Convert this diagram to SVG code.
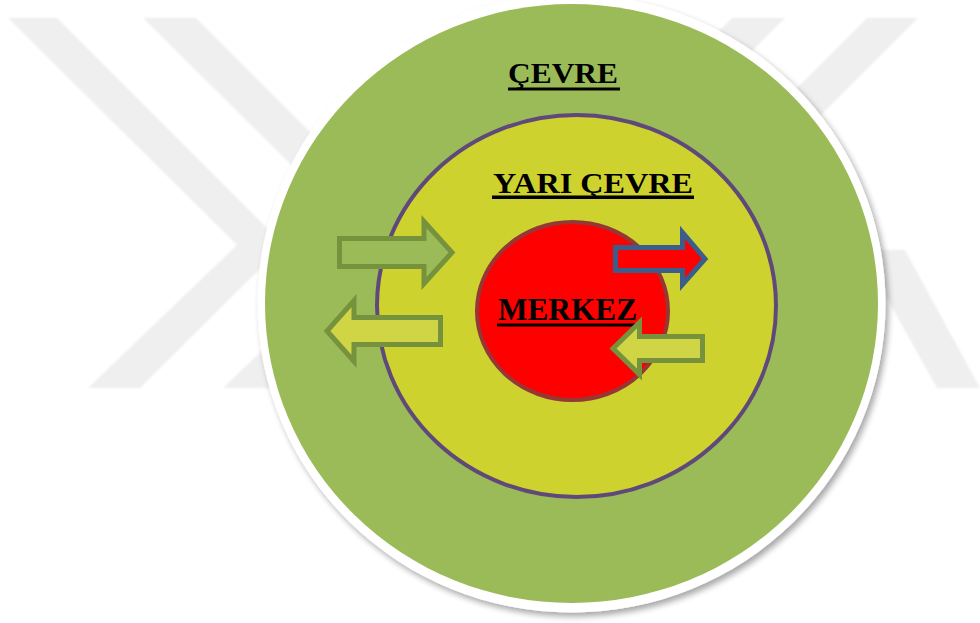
<svg xmlns="http://www.w3.org/2000/svg" width="980" height="623" viewBox="0 0 980 623">
  <defs>
    <filter id="shadow" x="-10%" y="-10%" width="120%" height="120%">
      <feGaussianBlur in="SourceAlpha" stdDeviation="3"/>
      <feOffset dx="3" dy="4" result="b"/>
      <feComponentTransfer><feFuncA type="linear" slope="0.35"/></feComponentTransfer>
      <feMerge><feMergeNode/><feMergeNode in="SourceGraphic"/></feMerge>
    </filter>
    <filter id="soft"><feGaussianBlur stdDeviation="0.8"/></filter>
  </defs>
  <style>
    .wm { fill: #efefef; }
    .lbl { font-family: "Liberation Serif", "Times New Roman", serif; font-weight: bold; fill: #000; }
    .ul { fill: #000; }
    .arrG { fill: #9bbb59; stroke: #76923c; stroke-width: 5; stroke-linejoin: miter; }
    .arrY { fill: #d0d546; stroke: #76923c; stroke-width: 5; stroke-linejoin: miter; }
    .arrR { fill: #ff0000; stroke: #3a5d8c; stroke-width: 5; stroke-linejoin: miter; }
  </style>
  <rect width="980" height="623" fill="#ffffff"/>
  <g id="watermark" filter="url(#soft)">
    <polygon class="wm" points="8,18 57,18 284,245 140,388 88,388 237,245"/>
    <polygon class="wm" points="143,18 196,18 423,245 275,388 223,388 372,245"/>
    <polygon class="wm" points="732,18 785,18 600,203 547,203"/>
    <polygon class="wm" points="867,18 918,18 700,236 649,236"/>
    <polygon class="wm" points="860,250 905,250 980,388 937,388"/>
  </g>
  <g id="cevre">
    <ellipse cx="571.5" cy="303.5" rx="314" ry="309" fill="#ffffff" filter="url(#shadow)"/>
    <ellipse cx="571.5" cy="303.5" rx="306.5" ry="299.5" fill="#9bbb59"/>
    <text class="lbl" x="508" y="83" font-size="30" textLength="110" lengthAdjust="spacingAndGlyphs">ÇEVRE</text>
    <rect class="ul" x="508" y="87.5" width="112" height="3"/>
  </g>
  <g id="yari-cevre">
    <ellipse cx="576.5" cy="306" rx="199.5" ry="191" fill="#cdd22e" stroke="#5f497a" stroke-width="4"/>
    <text class="lbl" x="493" y="193" font-size="30" textLength="200" lengthAdjust="spacingAndGlyphs">YARI ÇEVRE</text>
    <rect class="ul" x="492" y="195.5" width="202" height="3.5"/>
  </g>
  <g id="merkez">
    <ellipse cx="572.5" cy="311" rx="95.5" ry="89" fill="#ff0000" stroke="#953735" stroke-width="4"/>
    <text class="lbl" x="498" y="320" font-size="32" textLength="139" lengthAdjust="spacingAndGlyphs">MERKEZ</text>
    <rect class="ul" x="497" y="323.5" width="141" height="3"/>
  </g>
  <g id="connectors">
    <path class="arrG" d="M339.5,238.5 H424 V221.5 L452,252.5 L424,283.5 V266.5 H339.5 Z"/>
    <path class="arrY" d="M440.5,317.5 H354 V300.5 L327,331 L354,361.5 V344.5 H440.5 Z"/>
    <path class="arrR" d="M615.5,247.5 H682.5 V232.5 L705,259 L682.5,284.5 V270.5 H615.5 Z"/>
    <path class="arrY" d="M702.5,336.5 H639.5 V322.5 L613,348.5 L639.5,374.5 V360.5 H702.5 Z"/>
  </g>
</svg>
